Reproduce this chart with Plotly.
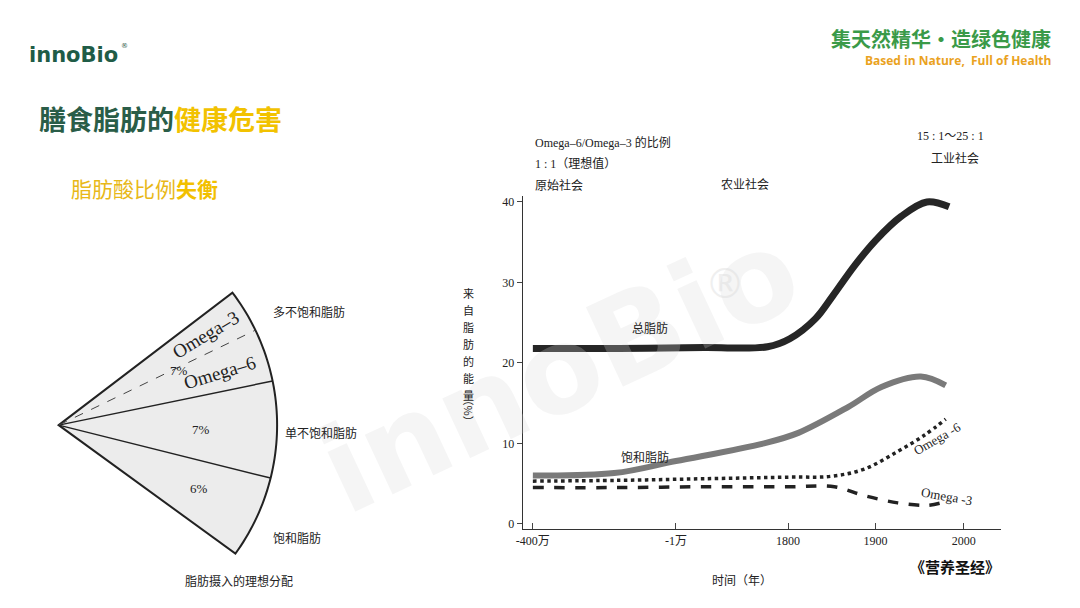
import numpy as np
import plotly.graph_objects as go

W, H = 1080, 608

# x positions on the (non-linear) time axis
tick_pos = [0, 1.67, 2.98, 4.0, 5.03]
tick_text = ['-400万', '-1万', '1800', '1900', '2000']

total_x = [0, 1, 2, 2.74, 3.0, 3.3, 3.5, 3.75, 4.0, 4.3, 4.6, 4.86]
total_y = [21.8, 21.8, 21.9, 22, 23, 25.5, 28.3, 32, 35.2, 38.2, 40, 39.4]
sat_x = [0, 0.95, 1.67, 2.7, 3.1, 3.68, 4.07, 4.53, 4.82]
sat_y = [6.0, 6.3, 7.8, 10, 11.3, 14.5, 17, 18.3, 17.2]
o6_x = [0, 1, 2, 3, 3.48, 3.87, 4.26, 4.57, 4.82]
o6_y = [5.3, 5.4, 5.6, 5.8, 5.9, 6.8, 9, 11, 13]
o3_x = [0, 1, 2, 3, 3.52, 3.87, 4.26, 4.61, 4.84]
o3_y = [4.5, 4.5, 4.6, 4.6, 4.6, 3.5, 2.6, 2.3, 2.8]

# ideal fat intake shares (top to bottom): poly, mono, saturated
shares = [7, 7, 6]
share_labels = ['7%', '7%', '6%']

serif = 'Liberation Serif, Noto Sans CJK SC'
cjk = 'Noto Sans CJK SC'


# screen pixel -> paper, compensating for the page offset seen in the render
def PX(x):
    return (x - 16.4) / 0.9916 / W


def PY(y):
    return 1 - (y - 8) / 0.994 / H


fig = go.Figure()
fig.add_trace(go.Scatter(x=total_x, y=total_y, mode='lines', line_shape='spline',
                         line=dict(color='#262626', width=7)))
fig.add_trace(go.Scatter(x=sat_x, y=sat_y, mode='lines', line_shape='spline',
                         line=dict(color='#7a7a7a', width=6)))
fig.add_trace(go.Scatter(x=o6_x, y=o6_y, mode='lines', line_shape='spline',
                         line=dict(color='#222', width=3.5, dash='dot')))
fig.add_trace(go.Scatter(x=o3_x, y=o3_y, mode='lines', line_shape='spline',
                         line=dict(color='#222', width=3.5, dash='dash')))

fig.update_layout(
    width=W, height=H, showlegend=False,
    margin=dict(l=0, r=0, t=0, b=0),
    paper_bgcolor='white', plot_bgcolor='white',
    xaxis=dict(domain=[PX(523), PX(1000)], range=[-0.12, 5.46],
               tickvals=tick_pos, ticktext=tick_text, showgrid=False, zeroline=False,
               showline=True, linecolor='#333', ticks='inside', ticklen=6,
               tickfont=dict(family=serif, size=12, color='#222')),
    yaxis=dict(domain=[PY(528), PY(195)], range=[-0.7, 40.8],
               tickvals=[0, 10, 20, 30, 40], showgrid=False, zeroline=False,
               showline=True, linecolor='#333', ticks='outside', ticklen=5,
               tickfont=dict(family=serif, size=12, color='#222')),
)


def text(x, y, s, size=12, color='#222', family=serif, angle=0, xanchor='center', opacity=1):
    fig.add_annotation(x=PX(x), y=PY(y), xref='paper', yref='paper', text=s,
                       showarrow=False, textangle=angle, xanchor=xanchor, yanchor='middle',
                       opacity=opacity, font=dict(size=size, color=color, family=family))


# watermark
text(560, 370, '<b>innoBio</b>', 120, '#d8d8d8', 'DejaVu Sans', -25, opacity=0.25)
text(725, 283, '®', 40, '#d8d8d8', 'DejaVu Sans', opacity=0.4)

# fan diagram built from shares
ax0, ay0, R = 60, 424, 218
top, bot = 37.3, -36.0
span = top - bot
edges = [top]
for s in shares:
    edges.append(edges[-1] - span * s / sum(shares))


def pt(a, r=R):
    return PX(ax0 + r * np.cos(a)), PY(ay0 - r * np.sin(a))


ang = np.radians(np.linspace(top, bot, 60))
path = f'M {PX(ax0)} {PY(ay0)} ' + ' '.join('L %f %f' % pt(a) for a in ang) + ' Z'
fig.add_shape(type='path', path=path, xref='paper', yref='paper',
              fillcolor='#ececec', line=dict(color='#222', width=2))
for e in edges[1:-1]:
    x1, y1 = pt(np.radians(e))
    fig.add_shape(type='line', xref='paper', yref='paper', x0=PX(ax0), y0=PY(ay0),
                  x1=x1, y1=y1, line=dict(color='#222', width=1.5))
x1, y1 = pt(np.radians(edges[0] - (edges[0] - edges[1]) * 0.45))
fig.add_shape(type='line', xref='paper', yref='paper', x0=PX(ax0), y0=PY(ay0),
              x1=x1, y1=y1, line=dict(color='#444', width=1, dash='dash'))

text(207, 334, 'Omega–3', 19, angle=-31)
text(221, 372, 'Omega–6', 19, angle=-17)
text(180, 370, share_labels[0], 13)
text(202, 428, share_labels[1], 13)
text(200, 487, share_labels[2], 13)
text(310, 311, '多不饱和脂肪', 12, family=cjk)
text(322, 431, '单不饱和脂肪', 12, family=cjk)
text(298, 536, '饱和脂肪', 12, family=cjk)
text(240, 579, '脂肪摄入的理想分配', 12, family=cjk)

# chart annotations
text(533, 142, 'Omega–6/Omega–3 的比例', 12, xanchor='left')
text(533, 163, '1 : 1（理想值）', 12, xanchor='left')
text(533, 184, '原始社会', 12, family=cjk, xanchor='left')
text(745, 183, '农业社会', 12, family=cjk)
text(950, 136, '15 : 1～25 : 1', 12)
text(955, 157, '工业社会', 12, family=cjk)
text(650, 327, '总脂肪', 12, family=cjk)
text(645, 455, '饱和脂肪', 12, family=cjk)
text(937, 437, 'Omega -6', 13, angle=-30)
text(947, 495, 'Omega -3', 13, angle=10)
text(742, 578, '时间（年）', 12, family=cjk)
for i, ch in enumerate('来自脂肪的能量'):
    text(469, 292 + i * 17, ch, 11, family=cjk)
text(469, 410, '（%）', 11, family=cjk, angle=90)
text(955, 565, '<b>《营养圣经》</b>', 15, '#111', cjk)

# header
text(28, 55, '<b>innoBio</b>', 21, '#1f5c47', 'DejaVu Sans', xanchor='left')
text(126, 46, '®', 7, '#1f5c47', 'DejaVu Sans')
text(38, 118, '<b><span style="color:#2a5d48">膳食脂肪的</span>'
     '<span style="color:#f2c200">健康危害</span></b>', 27, family=cjk, xanchor='left')
text(70, 188, '<span style="color:#e8b818">脂肪酸比例</span>'
     '<b><span style="color:#f2c000">失衡</span></b>', 21, family=cjk, xanchor='left')
text(1052, 38, '<b>集天然精华·造绿色健康</b>', 20, '#3a9a48', cjk, xanchor='right')
text(1052, 60, '<b>Based in Nature,  Full of Health</b>', 12, '#eaa21e', 'Open Sans', xanchor='right')

fig.write_html('out.html')
